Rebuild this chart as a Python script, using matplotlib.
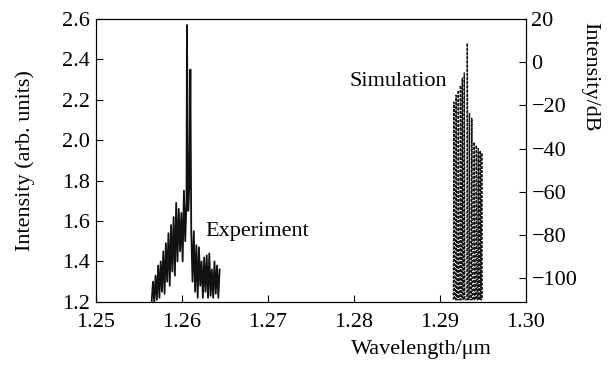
import numpy as np
import matplotlib
matplotlib.use('Agg')
import matplotlib.pyplot as plt

plt.rcParams['font.family'] = ['Liberation Serif', 'DejaVu Serif']
plt.rcParams['mathtext.fontset'] = 'stix'

# Experiment: alternating trough / peak readings (wavelength in um, arb. units)
expWl = [1.2565, 1.25665, 1.2568, 1.25695, 1.2571, 1.25725, 1.2574, 1.25755,
         1.2577, 1.25785, 1.2580, 1.25815, 1.2583, 1.25845, 1.2586, 1.25875,
         1.2589, 1.25905, 1.2592, 1.25935, 1.2595, 1.25965, 1.2598, 1.25995,
         1.2601, 1.26025, 1.2604, 1.26055, 1.2606, 1.26075, 1.2609, 1.2610,
         1.2611, 1.26125, 1.2614, 1.26155, 1.2617, 1.26185, 1.2620, 1.26215,
         1.2623, 1.26245, 1.2626, 1.26275, 1.2629, 1.26305, 1.2632, 1.26335,
         1.2635, 1.26365, 1.2638, 1.26395, 1.2641, 1.26425, 1.2644]
expInt = [1.20, 1.30, 1.20, 1.33, 1.21, 1.38, 1.22, 1.40, 1.25, 1.45,
          1.24, 1.49, 1.30, 1.54, 1.28, 1.58, 1.35, 1.62, 1.33, 1.69,
          1.40, 1.66, 1.45, 1.64, 1.40, 1.75, 1.50, 1.70, 2.57, 1.65,
          1.80, 2.35, 1.55, 1.30, 1.55, 1.25, 1.48, 1.22, 1.47, 1.28,
          1.40, 1.22, 1.42, 1.25, 1.43, 1.22, 1.44, 1.23, 1.36, 1.22,
          1.40, 1.24, 1.38, 1.22, 1.36]

# Simulation: dashed spectral lines (wavelength in um, dB)
simWl = [1.29164, 1.29190, 1.29215, 1.29240, 1.29262, 1.29285, 1.29320,
         1.29345, 1.29372, 1.29400, 1.29425, 1.29448, 1.29470, 1.29487]
simDb = [-18.5, -15.3, -13.0, -10.7, -7.4, -5.0, 8.8,
         -23.7, -26.0, -37.0, -38.5, -40.0, -41.0, -42.0]
simFloor = -110

fs = 16

fig = plt.figure(figsize=(6.1, 3.65), dpi=100)
ax = fig.add_axes([0.157, 0.173, 0.705, 0.775])
ax.plot(expWl, expInt, color='#111111', lw=1.3)
ax.set_xlim(1.25, 1.30)
ax.set_ylim(1.2, 2.6)
ax.set_xticks([1.25, 1.26, 1.27, 1.28, 1.29, 1.30])
ax.set_xticklabels(['1.25', '1.26', '1.27', '1.28', '1.29', '1.30'])
ax.set_yticks(np.arange(1.2, 2.61, 0.2))
ax.set_yticklabels(['1.2', '1.4', '1.6', '1.8', '2.0', '2.2', '2.4', '2.6'])
ax.tick_params(direction='in', length=5, labelsize=fs, top=False, right=False)
ax.tick_params(axis='x', pad=8)
ax.tick_params(axis='y', pad=4)
ax.set_ylabel('Intensity (arb. units)', fontsize=fs, va='center')
ax.yaxis.set_label_coords(-0.165, 0.5)
ax.set_xlabel('Wavelength/μm', fontsize=fs, va='center')
ax.xaxis.set_label_coords(0.758, -0.17)

ax2 = ax.twinx()
zx = []
zy = []
for w, d in zip(simWl, simDb):
    zx += [w - 0.00006, w, w + 0.00006]
    zy += [simFloor, d, simFloor]
ax2.plot(zx, zy, color='#111111', lw=1.0, linestyle=(0, (2, 1)))
ax2.set_ylim(-111, 20)
ax2.set_yticks([20, 0, -20, -40, -60, -80, -100])
ax2.tick_params(direction='in', length=5, labelsize=fs, pad=4)
ax2.set_ylabel('Intensity/dB', fontsize=fs, rotation=270, va='center')
ax2.yaxis.set_label_coords(1.149, 0.795)

ax.text(1.2627, 1.525, 'Experiment', fontsize=fs)
ax.text(1.2795, 2.27, 'Simulation', fontsize=fs)

fig.savefig('out.png', dpi=100)
